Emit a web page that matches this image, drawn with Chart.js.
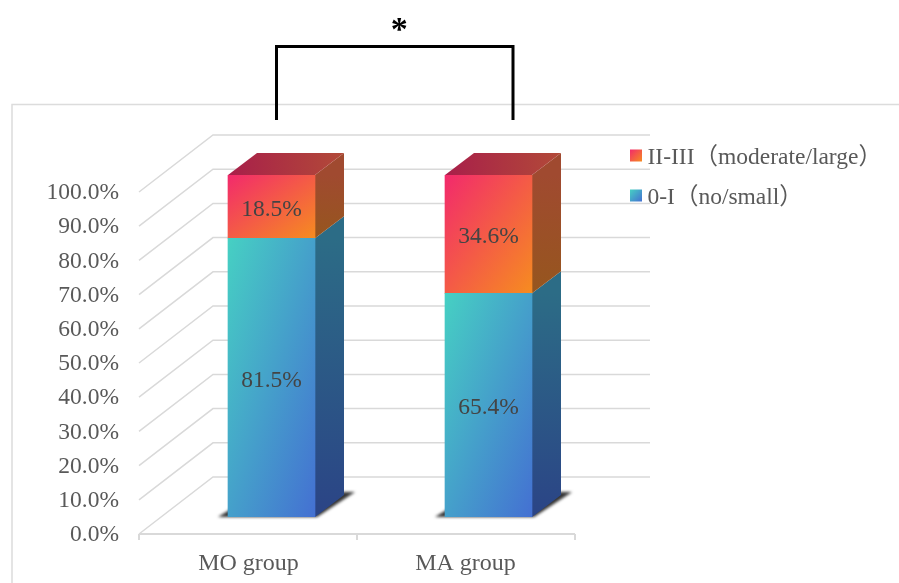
<!DOCTYPE html>
<html>
<head>
<meta charset="utf-8">
<title>Stacked 3D bars</title>
<script src="https://cdn.jsdelivr.net/npm/chart.js@4"></script>
<style>
  html, body { margin: 0; padding: 0; background: #fff; }
  canvas { display: block; }
</style>
</head>
<body>
<canvas id="chart" width="899" height="583"></canvas>
<script>
const categories = ["MO group", "MA group"];
const seriesNames = ["0-I（no/small）", "II-III（moderate/large）"];
const noSmall = [81.5, 65.4];
const moderateLarge = [18.5, 34.6];
const significance = "*";

const FONT = '"Liberation Serif", "Noto Sans CJK SC", serif';
const TEXT = "#595959";
const GRID = "#d9d9d9";

// offsets of the fake 3D view
const wall = { dx: 74, dy: -57 };
const depth = { dx: 29, dy: -22 };
const shift = { dx: -23, dy: 17 };

function diagonal(ctx, left, top, w, h, from, to) {
  const cx = left + w / 2, cy = top + h / 2;
  const norm = Math.hypot(w, h);
  const nx = h / norm, ny = w / norm;
  const half = w * h / norm;
  const g = ctx.createLinearGradient(cx - nx * half, cy - ny * half, cx + nx * half, cy + ny * half);
  g.addColorStop(0, from);
  g.addColorStop(1, to);
  return g;
}

const faces = [
  { front: ["#46d0c3", "#4470d2"], side: ["#2c6c86", "#2b4486"] },
  { front: ["#f22a6c", "#f68c20"], side: ["#a04a30", "#96561e"] }
];

function frontFill(context) {
  const chart = context.chart;
  const { x, y } = chart.scales;
  if (!chart.chartArea || !x || !y) return "#888";
  const ds = context.datasetIndex, i = context.dataIndex;
  const below = ds === 0 ? 0 : noSmall[i];
  const value = chart.data.datasets[ds].data[i];
  const top = y.getPixelForValue(below + value);
  const bottom = y.getPixelForValue(below);
  const left = x.getPixelForValue(i) - 43.5;
  return diagonal(chart.ctx, left, top, 87, bottom - top, faces[ds].front[0], faces[ds].front[1]);
}

function poly(ctx, pts, fill) {
  ctx.beginPath();
  pts.forEach((p, i) => i ? ctx.lineTo(p[0], p[1]) : ctx.moveTo(p[0], p[1]));
  ctx.closePath();
  ctx.fillStyle = fill;
  ctx.fill();
}

const view3d = {
  id: "view3d",
  beforeDatasetsDraw(chart) {
    const ctx = chart.ctx;
    const { x, y } = chart.scales;
    const floorY = y.getPixelForValue(0) + shift.dy;
    const x0 = chart.chartArea.left - 24;
    const x1 = chart.chartArea.right - 22;

    ctx.save();
    // outer frame
    ctx.strokeStyle = "#dcdcdc";
    ctx.lineWidth = 1.5;
    ctx.beginPath();
    ctx.moveTo(12, 583);
    ctx.lineTo(12, 104.5);
    ctx.lineTo(899, 104.5);
    ctx.stroke();

    // grid on the walls
    ctx.strokeStyle = GRID;
    y.ticks.forEach(t => {
      const py = y.getPixelForValue(t.value) + shift.dy;
      ctx.beginPath();
      ctx.moveTo(x0, py);
      ctx.lineTo(x0 + wall.dx, py + wall.dy);
      ctx.lineTo(650, py + wall.dy);
      ctx.stroke();
    });

    // floor edge and ticks
    ctx.lineWidth = 2;
    ctx.beginPath();
    ctx.moveTo(x0, floorY);
    ctx.lineTo(x1, floorY);
    [x0, (x0 + x1) / 2, x1].forEach(px => {
      ctx.moveTo(px, floorY);
      ctx.lineTo(px, floorY + 6);
    });
    ctx.stroke();
    ctx.restore();

    const lower = chart.getDatasetMeta(0).data;
    const upper = chart.getDatasetMeta(1).data;

    // floor shadows
    lower.forEach(bar => {
      const l = bar.x - bar.width / 2, r = bar.x + bar.width / 2, b = bar.base;
      ctx.save();
      ctx.filter = "blur(1.5px)";
      poly(ctx, [[l - 10, b], [l + 3, b - 8], [r + depth.dx, b - 25], [r + depth.dx + 11, b - 25], [r + 2, b]], "#333");
      ctx.restore();
    });

    // side faces and tops
    [lower, upper].forEach((bars, ds) => {
      bars.forEach(bar => {
        const r = bar.x + bar.width / 2, l = bar.x - bar.width / 2;
        const g = ctx.createLinearGradient(0, bar.y, 0, bar.base);
        g.addColorStop(0, faces[ds].side[0]);
        g.addColorStop(1, faces[ds].side[1]);
        poly(ctx, [[r, bar.y], [r + depth.dx, bar.y + depth.dy], [r + depth.dx, bar.base + depth.dy], [r, bar.base]], g);
        if (ds === 1) {
          const t = ctx.createLinearGradient(l, 0, r + depth.dx, 0);
          t.addColorStop(0, "#a81f4a");
          t.addColorStop(1, "#b24a38");
          poly(ctx, [[l, bar.y], [l + depth.dx, bar.y + depth.dy], [r + depth.dx, bar.y + depth.dy], [r, bar.y]], t);
        }
      });
    });
  },
  afterDatasetsDraw(chart) {
    const ctx = chart.ctx;
    const { x } = chart.scales;

    // value labels
    ctx.save();
    ctx.font = "23.5px " + FONT;
    ctx.textAlign = "center";
    ctx.textBaseline = "middle";
    ctx.fillStyle = "#444";
    chart.data.datasets.forEach((ds, d) => {
      chart.getDatasetMeta(d).data.forEach((bar, i) => {
        ctx.fillText(ds.data[i].toFixed(1) + "%", bar.x, (bar.y + bar.base) / 2 + 3);
      });
    });

    // legend, top entry is the upper series
    ctx.font = "23.5px " + FONT;
    ctx.textAlign = "left";
    [1, 0].forEach((d, row) => {
      const cy = 155.5 + row * 40;
      ctx.fillStyle = diagonal(ctx, 630, cy - 6, 12, 12, faces[d].front[0], faces[d].front[1]);
      ctx.fillRect(630, cy - 6, 12, 12);
      ctx.fillStyle = TEXT;
      ctx.fillText(seriesNames[d], 647.5, cy + 2);
    });

    // significance bracket
    const a = x.getPixelForValue(0) + 5;
    const b = x.getPixelForValue(1) + 24.5;
    ctx.strokeStyle = "#000";
    ctx.lineWidth = 3;
    ctx.lineJoin = "miter";
    ctx.beginPath();
    ctx.moveTo(a, 120);
    ctx.lineTo(a, 46.5);
    ctx.lineTo(b, 46.5);
    ctx.lineTo(b, 120);
    ctx.stroke();
    ctx.fillStyle = "#000";
    ctx.textAlign = "center";
    ctx.textBaseline = "alphabetic";
    ctx.font = "bold 34px " + FONT;
    ctx.fillText(significance, (a + b) / 2 + 4.5, 40);
    ctx.restore();
  }
};

new Chart(document.getElementById("chart"), {
  type: "bar",
  data: {
    labels: categories,
    datasets: [
      { label: seriesNames[0], data: noSmall, backgroundColor: frontFill, barThickness: 87, borderWidth: 0 },
      { label: seriesNames[1], data: moderateLarge, backgroundColor: frontFill, barThickness: 87, borderWidth: 0 }
    ]
  },
  options: {
    responsive: false,
    animation: false,
    layout: { padding: { top: 175, right: 302, left: 0, bottom: 0 } },
    plugins: { legend: { display: false }, tooltip: { enabled: false } },
    scales: {
      x: {
        stacked: true,
        grid: { display: false },
        border: { display: false },
        afterFit: s => { s.height = 66; },
        ticks: {
          color: TEXT,
          font: { family: FONT, size: 24 },
          padding: 24,
          maxRotation: 0,
          labelOffset: shift.dx
        }
      },
      y: {
        stacked: true,
        min: 0,
        max: 100,
        grid: { display: false },
        border: { display: false },
        afterFit: s => { s.width = 163; },
        ticks: {
          stepSize: 10,
          color: TEXT,
          font: { family: FONT, size: 23.5 },
          padding: 36,
          labelOffset: shift.dy + 1,
          callback: v => v.toFixed(1) + "%"
        }
      }
    }
  },
  plugins: [view3d]
});
</script>
</body>
</html>
